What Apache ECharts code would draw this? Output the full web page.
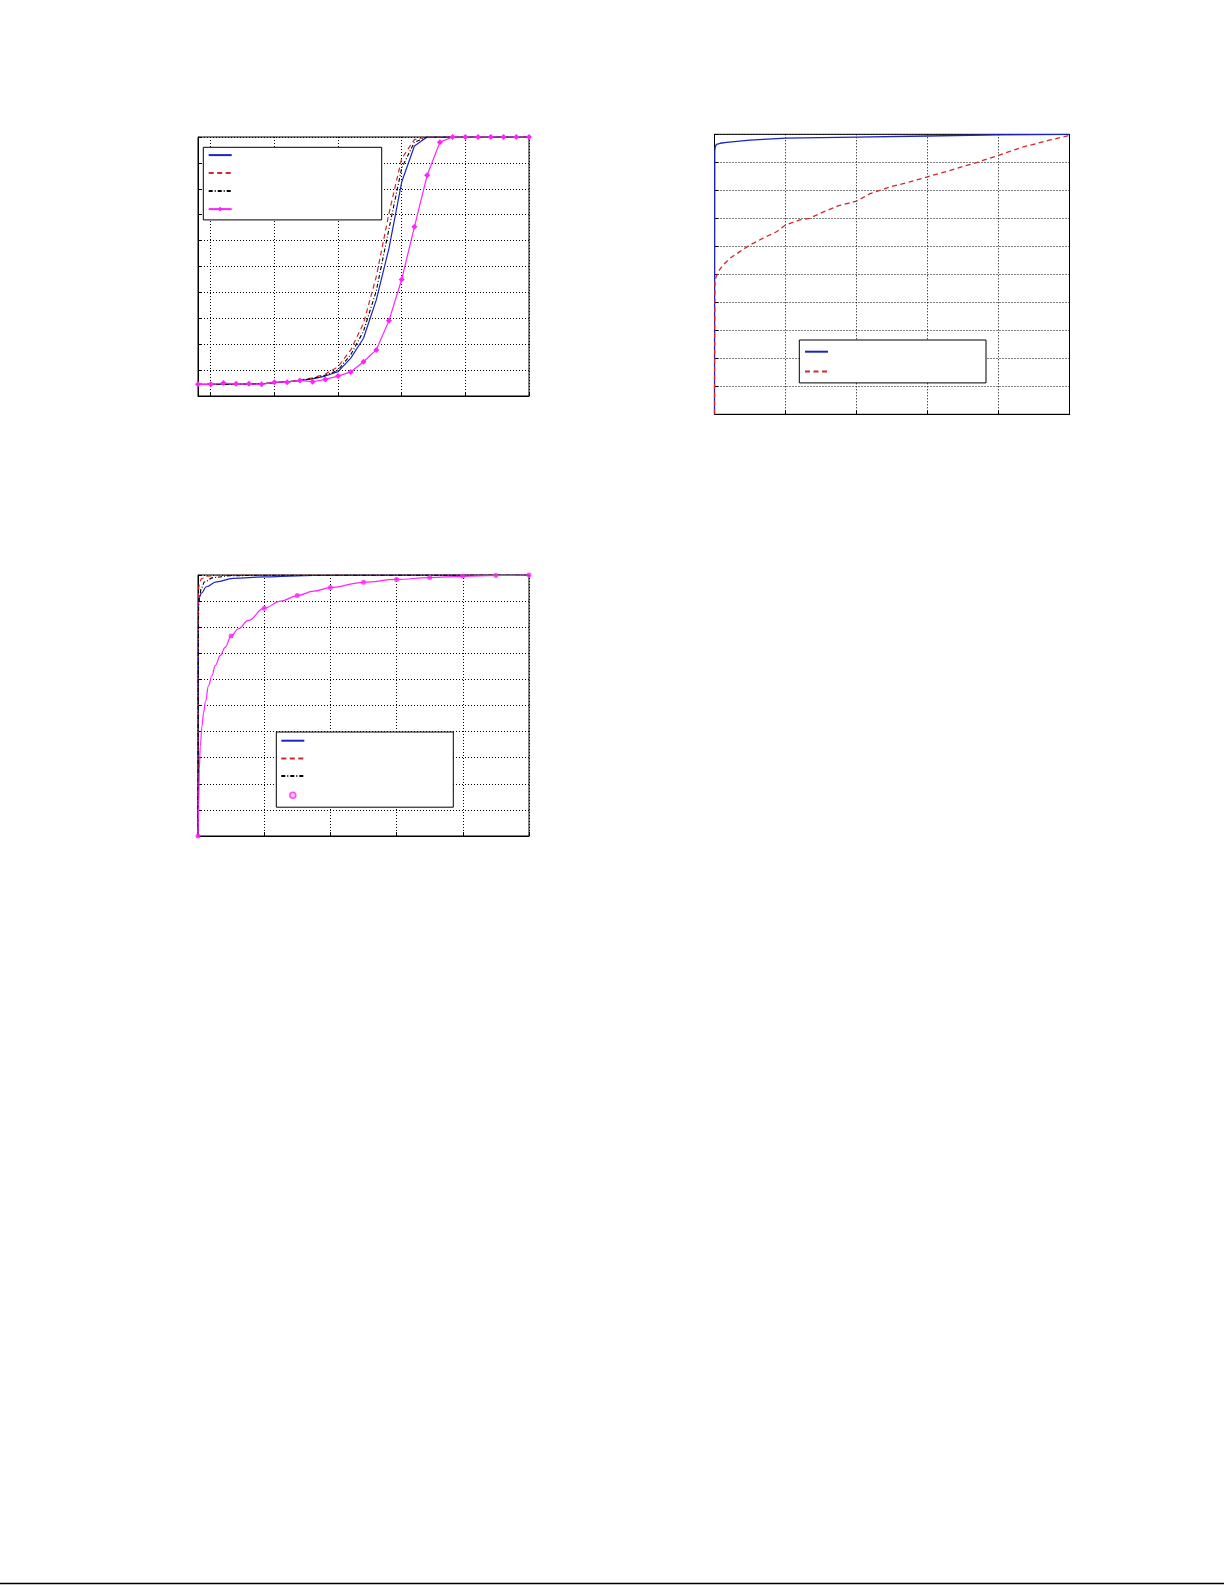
<!DOCTYPE html>
<html>
<head>
<meta charset="utf-8">
<script src="https://cdn.jsdelivr.net/npm/echarts@6/dist/echarts.min.js"></script>
<style>
html,body{margin:0;padding:0;background:#fff;}
#main{width:1225px;height:1585px;}
</style>
</head>
<body>
<div id="main"></div>
<script>
// ---------- Chart 1 (top-left) ----------
const c1X = [-1,0,1,2,3,4,5,6,7,8,9,10,11,12,13,14,15,16,17,18,19,20,21,22,23,24,25];
const c1Blue    = [0.045,0.045,0.046,0.046,0.047,0.047,0.052,0.055,0.059,0.066,0.077,0.094,0.146,0.223,0.37,0.57,0.826,0.965,1,1,1,1,1,1,1,1,1];
const c1Red     = [0.045,0.045,0.046,0.046,0.047,0.047,0.052,0.056,0.061,0.07,0.085,0.113,0.178,0.281,0.46,0.705,0.917,0.99,1,1,1,1,1,1,1,1,1];
const c1Black   = [0.045,0.045,0.046,0.046,0.047,0.047,0.052,0.055,0.06,0.068,0.08,0.1,0.16,0.25,0.405,0.645,0.88,0.98,1,1,1,1,1,1,1,1,1];
const c1Magenta = [0.045,0.045,0.05,0.047,0.047,0.045,0.053,0.053,0.06,0.055,0.064,0.077,0.093,0.132,0.178,0.291,0.45,0.653,0.852,0.98,1,1,1,1,1,1,1];

// ---------- Chart 2 (top-right) ----------
const c2BlueX = [0,0.002,0.004,0.01,0.028,0.08,0.17,0.5,1.0,1.5,2.0,3.0,4.0,5.0];
const c2BlueY = [0,0.5,0.94,0.955,0.964,0.968,0.971,0.979,0.986,0.988,0.99,0.994,0.998,1.0];
const c2RedX  = [0,0.003,0.006,0.05,0.12,0.216,0.357,0.5,0.685,0.873,1.0,1.2,1.34,1.535,1.75,2.0,2.19,2.47,2.75,3.0,3.41,3.7,4.0,4.35,4.7,5.0];
const c2RedY  = [0,0.3,0.48,0.509,0.533,0.557,0.581,0.605,0.629,0.652,0.676,0.694,0.7,0.723,0.745,0.761,0.788,0.812,0.83,0.848,0.878,0.9,0.925,0.955,0.978,0.996];

// ---------- Chart 3 (bottom-left) ----------
const c3BlueX  = [0,0.003,0.006,0.02,0.05,0.127,0.278,0.53,1,1.5,2,3,5];
const c3BlueY  = [0,0.5,0.89,0.915,0.93,0.955,0.974,0.987,0.993,0.997,0.999,1,1];
const c3RedX   = [0,0.002,0.006,0.015,0.05,0.127,0.4,1,5];
const c3RedY   = [0,0.7,0.93,0.96,0.985,0.996,0.999,1,1];
const c3BlackX = [0,0.002,0.01,0.025,0.05,0.1,0.23,0.48,1,5];
const c3BlackY = [0,0.6,0.88,0.92,0.95,0.974,0.99,0.997,0.999,1];
const c3CurveX = [0,0.005,0.01,0.02,0.035,0.06,0.085,0.11,0.16,0.21,0.26,0.336,0.41,0.5,0.61,0.76,1.0,1.25,1.5,1.75,2.0,2.5,3,3.5,4,4.5,5];
const c3CurveY = [0,0.06,0.114,0.255,0.345,0.422,0.473,0.512,0.576,0.614,0.653,0.691,0.723,0.766,0.794,0.826,0.873,0.9,0.921,0.938,0.952,0.972,0.983,0.99,0.995,0.998,1];
const c3MarkX  = [0,0.5,1,1.5,2,2.5,3,3.5,4,4.5,5];
const c3MarkY  = [0,0.766,0.873,0.921,0.952,0.972,0.983,0.99,0.995,0.998,1];

const zip = (xs, ys) => xs.map((x, i) => [x, ys[i]]);

const BLUE = '#1b24c4', RED = '#d2282a', BLACK = '#000000', MAG = '#ff22ff';
const DASH = [5, 3.5], DASHDOT = [4, 2, 1, 2];

function xAxis(gi, min, max, extra) {
  return Object.assign({
    type: 'value', gridIndex: gi, min: min, max: max,
    axisLabel: {show: false},
    axisLine: {show: true, onZero: false, lineStyle: {color: '#000', width: 1}},
    axisTick: {show: true, inside: true, length: 4, lineStyle: {color: '#000'}},
    splitLine: {show: true, lineStyle: {color: '#000', width: 1, type: [1, 2]}}
  }, extra || {});
}
function yAxis(gi) {
  return {
    type: 'value', gridIndex: gi, min: 0, max: 1, interval: 0.1,
    axisLabel: {show: false},
    axisLine: {show: true, onZero: false, lineStyle: {color: '#000', width: 1}},
    axisTick: {show: true, inside: true, length: 4, lineStyle: {color: '#000'}},
    splitLine: {show: true, lineStyle: {color: '#000', width: 1, type: [1, 2]}}
  };
}
// legend entries: plain line samples hide the symbol
const noSym = {color: 'transparent', borderColor: 'transparent', opacity: 0};
function lineItem(name) { return {name: name, itemStyle: noSym}; }
function legendBox(items, left, top, pad, gap) {
  return {
    data: items, orient: 'vertical', left: left, top: top,
    padding: pad, itemGap: gap, itemWidth: 23, itemHeight: 6,
    backgroundColor: '#fff', borderColor: '#000', borderWidth: 1, borderRadius: 0,
    formatter: () => '', textStyle: {fontSize: 4, lineHeight: 4},
    selectedMode: false, z: 10
  };
}

const gridBase = {show: true, borderColor: '#000', borderWidth: 1, backgroundColor: 'transparent', containLabel: false};

const option = {
  animation: false,
  backgroundColor: '#fff',
  grid: [
    Object.assign({left: 198, top: 137, width: 331, height: 259}, gridBase),
    Object.assign({left: 714.5, top: 134.3, width: 355, height: 280}, gridBase),
    Object.assign({left: 198, top: 575, width: 331, height: 261}, gridBase)
  ],
  xAxis: [
    xAxis(0, -1, 25, {splitNumber: 5}),
    xAxis(1, 0, 5, {interval: 1}),
    xAxis(2, 0, 5, {interval: 1})
  ],
  yAxis: [yAxis(0), yAxis(1), yAxis(2)],
  legend: [
    legendBox([lineItem('c1b'), lineItem('c1r'), lineItem('c1k'), {name: 'c1m'}], 203.3, 147.3, [5.4, 145, 8.4, 4.4], 13.2),
    legendBox([lineItem('c2b'), lineItem('c2r')], 799.3, 340, [9.3, 153, 9, 4.7], 15),
    legendBox([lineItem('c3b'), lineItem('c3r'), lineItem('c3k'),
               {name: 'c3m', itemStyle: {color: '#f7b8f7', borderColor: MAG, borderWidth: 1.5}}],
              276.3, 732, [6.3, 144, 8.3, 4], 12.9)
  ],
  series: [
    {name: 'c1b', type: 'line', xAxisIndex: 0, yAxisIndex: 0, data: zip(c1X, c1Blue), symbol: 'none',
     lineStyle: {color: BLUE, width: 1.2}, itemStyle: {color: BLUE}},
    {name: 'c1r', type: 'line', xAxisIndex: 0, yAxisIndex: 0, data: zip(c1X, c1Red), symbol: 'none',
     lineStyle: {color: RED, width: 1.2, type: DASH}, itemStyle: {color: RED}},
    {name: 'c1k', type: 'line', xAxisIndex: 0, yAxisIndex: 0, data: zip(c1X, c1Black), symbol: 'none',
     lineStyle: {color: BLACK, width: 1.1, type: DASHDOT}, itemStyle: {color: BLACK}},
    {name: 'c1m', type: 'line', xAxisIndex: 0, yAxisIndex: 0, data: zip(c1X, c1Magenta), symbol: 'diamond', symbolSize: 6, showSymbol: true,
     lineStyle: {color: MAG, width: 1.2}, itemStyle: {color: MAG}},

    {name: 'c2b', type: 'line', xAxisIndex: 1, yAxisIndex: 1, data: zip(c2BlueX, c2BlueY), symbol: 'none',
     lineStyle: {color: BLUE, width: 1.3}, itemStyle: {color: BLUE}},
    {name: 'c2r', type: 'line', xAxisIndex: 1, yAxisIndex: 1, data: zip(c2RedX, c2RedY), symbol: 'none',
     lineStyle: {color: RED, width: 1.3, type: DASH}, itemStyle: {color: RED}},

    {name: 'c3b', type: 'line', xAxisIndex: 2, yAxisIndex: 2, data: zip(c3BlueX, c3BlueY), symbol: 'none', smooth: 0.4, smoothMonotone: 'x',
     lineStyle: {color: BLUE, width: 1.2}, itemStyle: {color: BLUE}},
    {name: 'c3r', type: 'line', xAxisIndex: 2, yAxisIndex: 2, data: zip(c3RedX, c3RedY), symbol: 'none', smooth: 0.4, smoothMonotone: 'x',
     lineStyle: {color: RED, width: 1.2, type: DASH}, itemStyle: {color: RED}},
    {name: 'c3k', type: 'line', xAxisIndex: 2, yAxisIndex: 2, data: zip(c3BlackX, c3BlackY), symbol: 'none', smooth: 0.4, smoothMonotone: 'x',
     lineStyle: {color: BLACK, width: 1.1, type: DASHDOT}, itemStyle: {color: BLACK}},
    {name: 'c3curve', type: 'line', xAxisIndex: 2, yAxisIndex: 2, data: zip(c3CurveX, c3CurveY), symbol: 'none', smooth: 0.4, smoothMonotone: 'x',
     lineStyle: {color: MAG, width: 1.2}, itemStyle: {color: MAG}},
    {name: 'c3m', type: 'scatter', xAxisIndex: 2, yAxisIndex: 2, data: zip(c3MarkX, c3MarkY), symbol: 'circle', symbolSize: 5,
     itemStyle: {color: MAG}, z: 5}
  ],
  graphic: [
    {type: 'line', shape: {x1: 0, y1: 1583.5, x2: 1224, y2: 1583.5}, style: {stroke: '#000', lineWidth: 1.5}}
  ]
};

const chart = echarts.init(document.getElementById('main'), null, {renderer: 'canvas'});
chart.setOption(option);
</script>
</body>
</html>
